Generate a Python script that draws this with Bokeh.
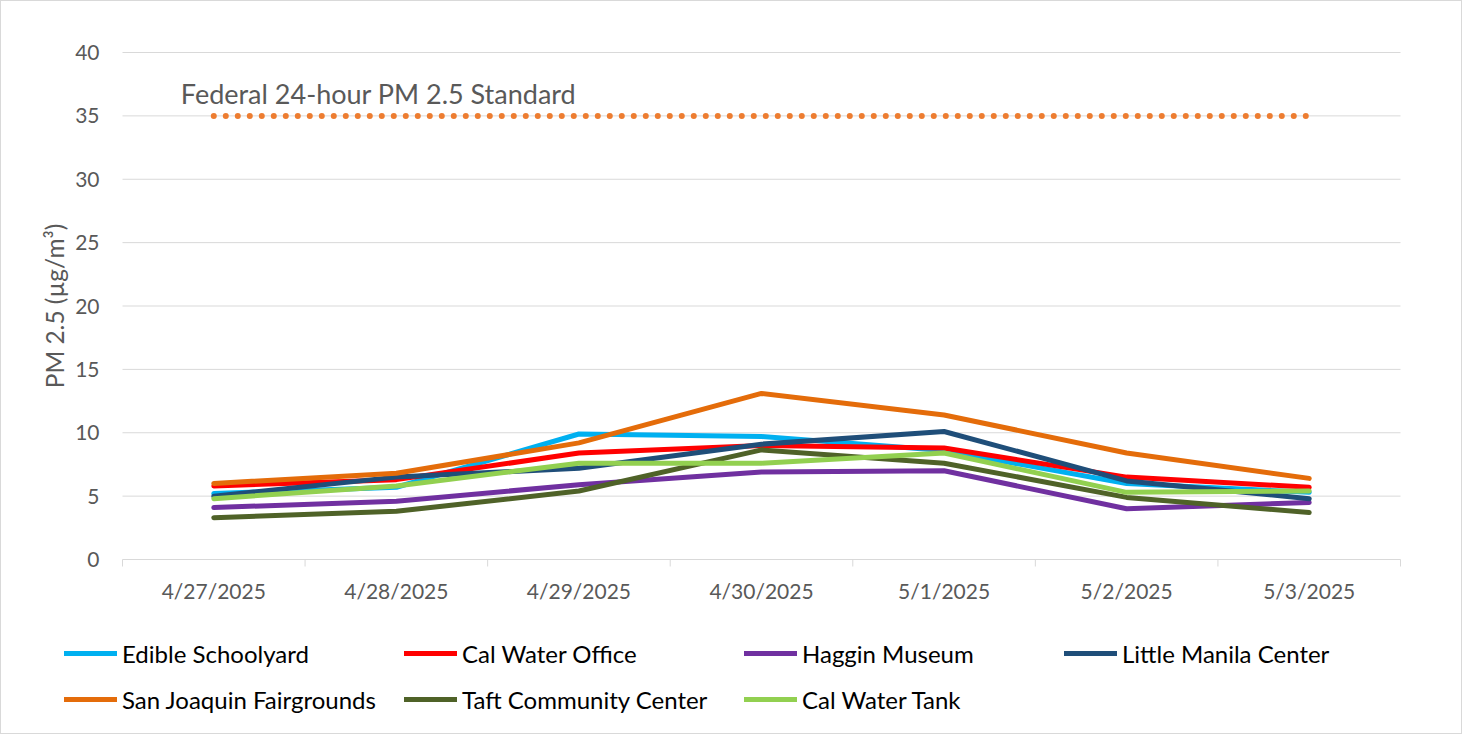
import math
from bokeh.plotting import figure
from bokeh.models import Legend, LegendItem, Label, Range1d
from bokeh.core.properties import value
from bokeh.embed import file_html
from bokeh.resources import INLINE

dates = ["4/27/2025", "4/28/2025", "4/29/2025", "4/30/2025", "5/1/2025", "5/2/2025", "5/3/2025"]
edible_schoolyard = [5.2, 5.7, 9.9, 9.7, 8.6, 6.0, 5.3]
cal_water_office = [5.8, 6.3, 8.4, 9.0, 8.8, 6.5, 5.7]
haggin_museum = [4.1, 4.6, 5.9, 6.9, 7.0, 4.0, 4.5]
little_manila_center = [5.0, 6.5, 7.2, 9.1, 10.1, 6.2, 4.8]
san_joaquin_fairgrounds = [6.0, 6.8, 9.2, 13.1, 11.4, 8.4, 6.4]
taft_community_center = [3.3, 3.8, 5.4, 8.65, 7.6, 4.9, 3.7]
cal_water_tank = [4.8, 5.8, 7.6, 7.6, 8.4, 5.3, 5.4]
federal_standard = [35] * len(dates)
y_ticks = [0, 5, 10, 15, 20, 25, 30, 35, 40]

series = [
    ("Edible Schoolyard", edible_schoolyard, "#00B0F0"),
    ("Cal Water Office", cal_water_office, "#FF0000"),
    ("Haggin Museum", haggin_museum, "#7030A0"),
    ("Little Manila Center", little_manila_center, "#1F4E79"),
    ("San Joaquin Fairgrounds", san_joaquin_fairgrounds, "#E46C0A"),
    ("Taft Community Center", taft_community_center, "#4F6228"),
    ("Cal Water Tank", cal_water_tank, "#92D050"),
]

FONT = "Lato"
GRID = "#d9d9d9"
LABEL = "#595959"
n = len(dates)
xs = list(range(n))

# page layout (pixels): figure content starts at (9, 9) because of the 1px border
W, H = 1462, 734
ORIGIN = 9
PLOT_L, PLOT_R = 130, 1408      # plot area horizontal extent on the page
Y_TOP_PX, Y_ZERO_PX = 60, 567   # page pixel of y=40 and y=0
ymax = max(y_ticks)
px_cat = (PLOT_R - PLOT_L) / n
px_unit = (Y_ZERO_PX - Y_TOP_PX) / ymax
x_start = -0.5 - (PLOT_L - ORIGIN) / px_cat
x_end = n - 0.5 + (ORIGIN + W - PLOT_R) / px_cat
y_end = ymax + (Y_TOP_PX - ORIGIN) / px_unit
y_start = -(ORIGIN + H - Y_ZERO_PX) / px_unit

p = figure(width=W, height=H, output_backend="svg", toolbar_location=None,
           x_range=Range1d(x_start, x_end), y_range=Range1d(y_start, y_end),
           x_axis_type=None, y_axis_type=None,
           min_border_left=0, min_border_right=0, min_border_top=0,
           min_border_bottom=0)
p.styles = {"border": "1px solid #d9d9d9"}
p.outline_line_color = None
p.xgrid.grid_line_color = None
p.ygrid.grid_line_color = None

# gridlines (the one at 0 doubles as the category axis line)
p.segment(x0=[-0.5] * len(y_ticks), y0=y_ticks, x1=[n - 0.5] * len(y_ticks),
          y1=y_ticks, line_color=GRID, line_width=1)
bounds = [i - 0.5 for i in range(n + 1)]
p.ray(x=bounds, y=[0] * len(bounds), length=7, length_units="screen",
      angle=-math.pi / 2, line_color=GRID, line_width=1)

# category labels
p.text(x=xs, y=[0] * n, text=dates, y_offset=31, text_align="center",
       text_baseline="middle", text_font=value(FONT), text_font_size="21px",
       text_color=LABEL)
# value labels
p.text(x=[-0.5] * len(y_ticks), y=y_ticks, text=[str(t) for t in y_ticks],
       x_offset=-23, text_align="right", text_baseline="middle",
       text_font=value(FONT), text_font_size="21px", text_color=LABEL)
# value axis title
p.add_layout(Label(x=-0.5, y=ymax / 2, x_offset=-68, angle=math.pi / 2,
                   text="PM 2.5 (µg/m³)", text_align="center",
                   text_baseline="middle", text_font=FONT,
                   text_font_size="24.5px", text_color=LABEL))

p.line(xs, federal_standard, line_color="#ED7D31", line_width=6,
       line_dash="0 12", line_cap="round")
p.add_layout(Label(x=0, y=35, x_offset=-33, y_offset=6,
                   text="Federal 24-hour PM 2.5 Standard",
                   text_font=FONT, text_font_size="27px", text_color=LABEL,
                   text_baseline="bottom"))

renderers = []
for name, vals, color in series:
    r = p.line(xs, vals, line_color=color, line_width=5,
               line_join="round", line_cap="round")
    renderers.append((name, r))

col_x = [63, 403, 743, 1063]
row_y = [67, 21]
for i, (name, r) in enumerate(renderers):
    row, col = divmod(i, 4)
    lg = Legend(items=[LegendItem(label=name, renderers=[r])],
                location=(col_x[col], row_y[row]),
                padding=0, margin=0, spacing=0,
                glyph_width=53, glyph_height=30, label_height=30,
                label_standoff=5,
                label_text_font=FONT, label_text_font_size="24px",
                label_text_color="#000000",
                border_line_color=None, background_fill_alpha=0)
    p.add_layout(lg)

open("out.html", "w").write(file_html(p, INLINE))
